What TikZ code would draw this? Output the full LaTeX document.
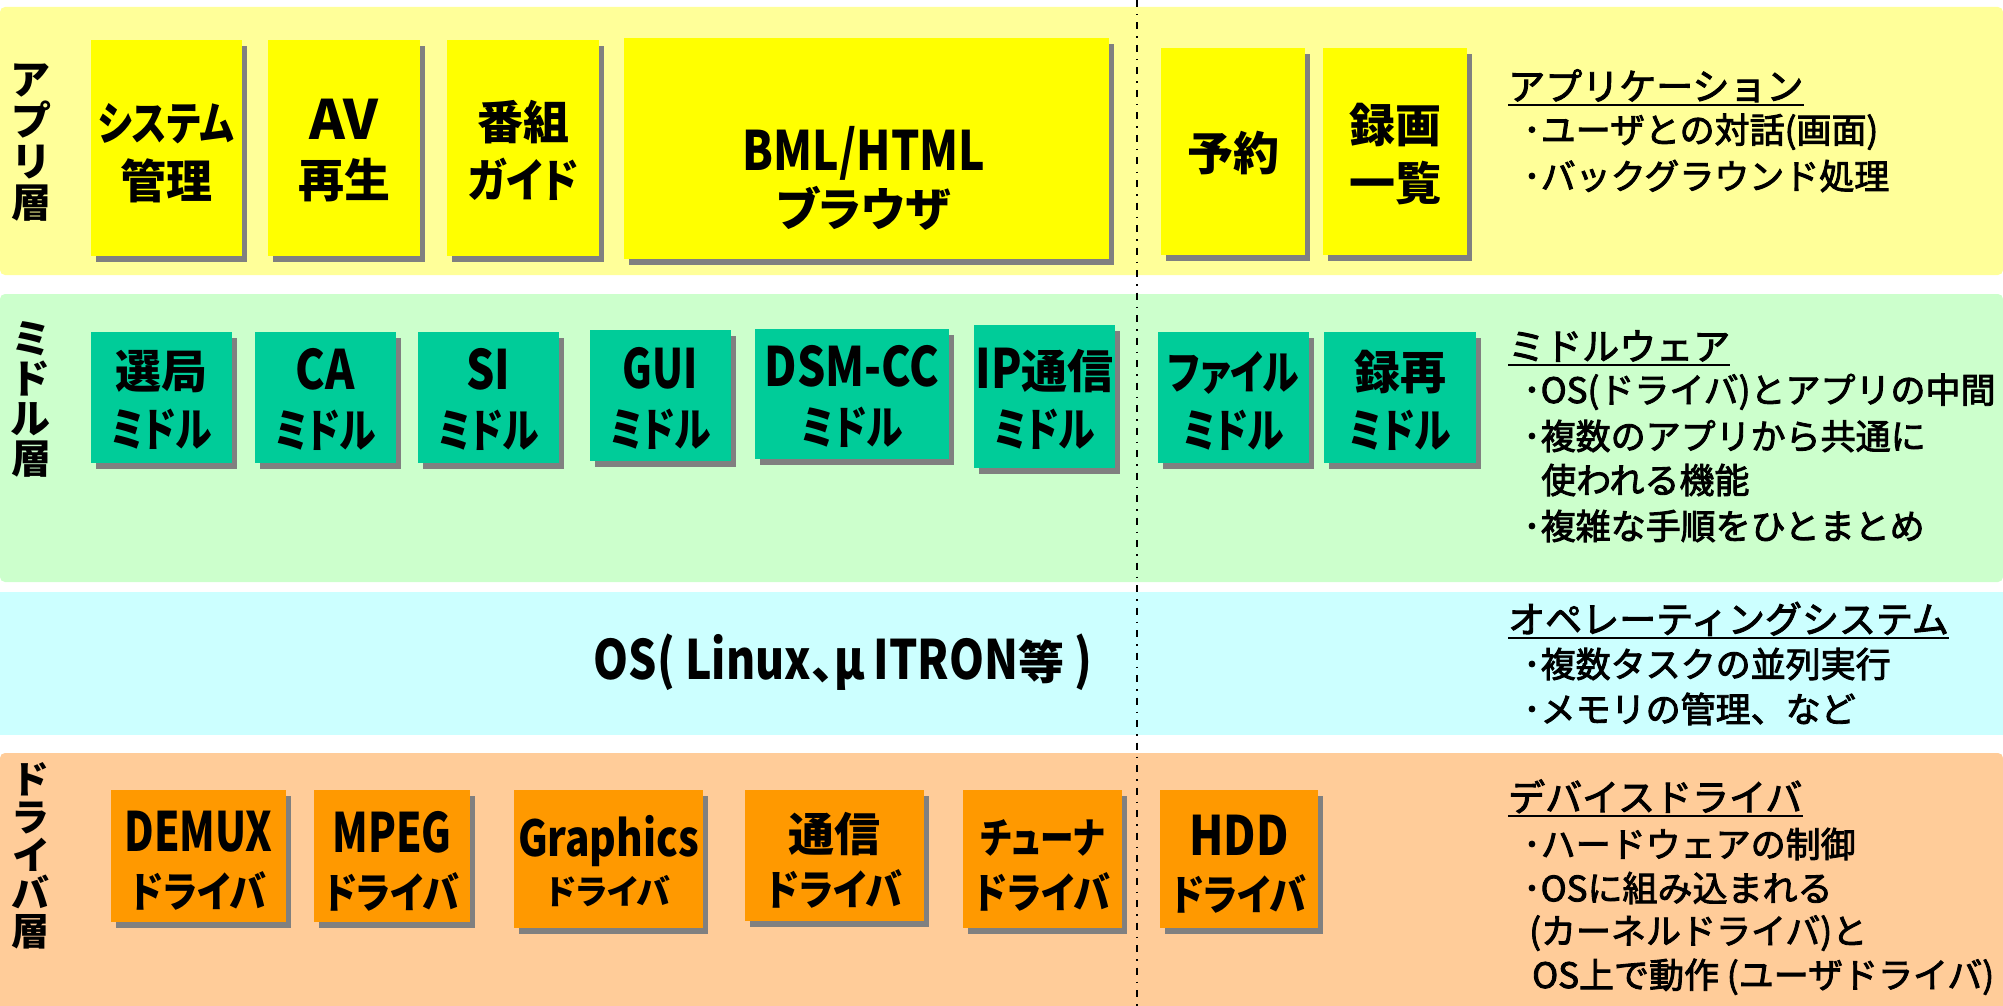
\documentclass[tikz,border=0pt]{standalone}
\usepackage{fontspec}
\newfontfamily\jp{Noto Sans CJK JP}[FakeBold=2.5]
\newfontfamily\jpb{Noto Sans CJK JP}[RawFeature=+palt]
\newfontfamily\jpk{Noto Sans CJK JP}[RawFeature=+palt,FakeStretch=0.8]
\newfontfamily\jpm{Noto Sans CJK JP}[RawFeature=+palt,FakeStretch=0.88]
\newfontfamily\jpl{Noto Sans CJK JP}[FakeStretch=0.82,Scale=1.18]
\newfontfamily\jpn{Noto Sans CJK JP}[FakeStretch=0.75,Scale=1.18]
\newfontfamily\jpw{Noto Sans CJK JP}[FakeStretch=1.0,Scale=1.18]
\usetikzlibrary{calc,shadows}
\definecolor{appbg}{HTML}{FFFF99}
\definecolor{appbox}{HTML}{FFFF00}
\definecolor{midbg}{HTML}{CCFFCC}
\definecolor{midbox}{HTML}{00CC99}
\definecolor{osbg}{HTML}{CCFFFF}
\definecolor{drvbg}{HTML}{FFCC99}
\definecolor{drvbox}{HTML}{FF9900}
\definecolor{shgray}{HTML}{808080}
\newcommand\bst{\rule[-0.12em]{0pt}{1em}}
\newcommand\kn[1]{{\jpk #1}}
\newcommand\km[1]{{\jpm #1}}
\newcommand\mkbox[6]{\node[#1, minimum width={(#5)-(#3)}, minimum height={(#6)-(#4)}] (#2) at ({((#3)+(#5))/2},{((#4)+(#6))/2}) {};}
\begin{document}
\begin{tikzpicture}[x=1pt,y=-1pt,
  bxs/.style={inner sep=0, draw=none, rectangle,
    drop shadow={shadow xshift=5pt, shadow yshift=-6pt, fill=shgray, opacity=1}},
  appbx/.style={bxs, fill=appbox},
  midbx/.style={bxs, fill=midbox},
  drvbx/.style={bxs, fill=drvbox},
  btxt/.style={inner sep=0, align=center, font=\jpb\bfseries\fontsize{46}{58}\selectfont},
  lbl/.style={inner sep=0, align=center, font=\jpb\bfseries\fontsize{40}{41}\selectfont},
  ttl/.style={anchor=west, inner sep=0, font=\jp\fontsize{37}{45}\selectfont},
  dsc/.style={anchor=west, inner sep=0, font=\jp\fontsize{35}{45}\selectfont},
  uline/.style={line width=2pt},
  dashdotline/.style={line width=1.8pt, dash pattern=on 7pt off 7pt on 1.5pt off 7pt}]
\useasboundingbox (0,0) rectangle (2003,1006);
% bands
\fill[appbg, rounded corners=5pt] (0,7) rectangle (2003,275);
\fill[midbg, rounded corners=5pt] (0,294) rectangle (2003,582);
\fill[osbg] (0,592) rectangle (2003,735);
\fill[drvbg, rounded corners=5pt] (0,753) rectangle (2003,1020);
% divider
\coordinate (divtop) at (1137,0);
\coordinate (divbot) at (1137,1006);
\draw[dashdotline] (divtop) -- (divbot);
% layer labels
\node[lbl] (lab-app) at (31,140.5) {ア\bst\\プ\bst\\リ\bst\\層\bst};
\node[lbl, font=\jpb\bfseries\fontsize{40}{40}\selectfont] (lab-mid) at (31,398.5) {ミ\bst\\ド\bst\\ル\bst\\層\bst};
\node[lbl, font=\jpb\bfseries\fontsize{38}{38}\selectfont] (lab-drv) at (31,855.5) {ド\bst\\ラ\bst\\イ\bst\\バ\bst\\層\bst};
% application boxes
\mkbox{appbx}{sys}{91}{40}{242}{256}
\mkbox{appbx}{av}{268}{40}{420}{256}
\mkbox{appbx}{prog}{447}{40}{599}{256}
\mkbox{appbx}{bml}{624}{38}{1109}{259}
\mkbox{appbx}{yoyaku}{1161}{48}{1305}{255}
\mkbox{appbx}{rokuga}{1323}{48}{1467}{255}
\node[btxt] (sys-t) at (166,152) {\kn{システム}\bst\\管理\bst};
\node[btxt] (av-t) at (344,151.5) {{\jpw AV}\bst\\再生\bst};
\node[btxt] (prog-t) at (523,151.5) {番組\bst\\\km{ガイド}\bst};
\node[btxt, font=\jpb\bfseries\fontsize{46}{56}\selectfont] (bml-t) at (864,179) {{\jpl BML/HTML}\bst\\ブラウザ\bst};
\node[btxt] (yoyaku-t) at (1233,153) {予約\bst};
\node[btxt] (rokuga-t) at (1395,154) {録画\bst\\一覧\bst};
% middleware boxes
\mkbox{midbx}{senkyoku}{91}{332}{232}{463}
\mkbox{midbx}{ca}{255}{332}{396}{463}
\mkbox{midbx}{si}{418}{332}{559}{463}
\mkbox{midbx}{gui}{590}{330}{731}{461}
\mkbox{midbx}{dsm}{755}{329}{949}{459}
\mkbox{midbx}{ip}{974}{325}{1115}{468}
\mkbox{midbx}{file}{1158}{332}{1309}{463}
\mkbox{midbx}{rokusai}{1324}{332}{1476}{463}
\node[btxt] (senkyoku-t) at (161.5,400.5) {選局\bst\\\kn{ミドル}\bst};
\node[btxt] (ca-t) at (325.5,400.5) {{\jpl CA}\bst\\\kn{ミドル}\bst};
\node[btxt] (si-t) at (488.5,400.5) {{\jpl SI}\bst\\\kn{ミドル}\bst};
\node[btxt] (gui-t) at (660.5,400) {{\jpn GUI}\bst\\\kn{ミドル}\bst};
\node[btxt] (dsm-t) at (852,397.5) {{\jpl DSM-CC}\bst\\\kn{ミドル}\bst};
\node[btxt] (ip-t) at (1044.5,400.5) {{\jpl IP}通信\bst\\\kn{ミドル}\bst};
\node[btxt] (file-t) at (1233.5,401) {\kn{ファイル}\bst\\\kn{ミドル}\bst};
\node[btxt] (rokusai-t) at (1400,401) {録再\bst\\\kn{ミドル}\bst};
% OS
\node[btxt] (os-t) at (843,662) {{\jpl OS( Linux}、{\jpl μ\,ITRON}等{\jpl\ )}\bst};
% driver boxes
\mkbox{drvbx}{demux}{111}{790}{286}{922}
\mkbox{drvbx}{mpeg}{314}{790}{470}{922}
\mkbox{drvbx}{gfx}{514}{790}{703}{928}
\mkbox{drvbx}{tsu}{745}{790}{924}{921}
\mkbox{drvbx}{tuner}{963}{790}{1122}{928}
\mkbox{drvbx}{hdd}{1160}{790}{1318}{928}
\node[btxt, font=\jpb\bfseries\fontsize{46}{56}\selectfont] (demux-t) at (198.5,862) {{\jpn DEMUX}\bst\\{\fontsize{42}{56}\selectfont\km{ドライバ}\bst}};
\node[btxt, font=\jpb\bfseries\fontsize{46}{56}\selectfont] (mpeg-t) at (392,862) {{\jpn MPEG}\bst\\{\fontsize{42}{56}\selectfont\km{ドライバ}\bst}};
\node[btxt, font=\jpb\bfseries\fontsize{46}{48}\selectfont] (gfx-t) at (608.5,862) {{\fontsize{42}{48}\selectfont\jpl Graphics}\bst\\{\fontsize{34}{48}\selectfont ドライバ\bst}};
\node[btxt, font=\jpb\bfseries\fontsize{46}{54}\selectfont] (tsu-t) at (834.5,861) {通信\bst\\{\fontsize{42}{54}\selectfont\km{ドライバ}\bst}};
\node[btxt, font=\jpb\bfseries\fontsize{42}{55}\selectfont] (tuner-t) at (1042.5,865) {\kn{チューナ}\bst\\\km{ドライバ}\bst};
\node[btxt, font=\jpb\bfseries\fontsize{46}{55}\selectfont] (hdd-t) at (1239,865) {{\jpl HDD}\bst\\{\fontsize{42}{55}\selectfont\km{ドライバ}\bst}};
% descriptions
\node[ttl] (t-app) at (1508,86) {アプリケーション\bst};
\draw[uline] (t-app.south west) -- (t-app.south east);
\node[dsc] (d-app1) at (1523,131) {･ユーザとの対話(画面)\bst};
\node[dsc] (d-app2) at (1523,176) {･バックグラウンド処理\bst};
\node[ttl] (t-mid) at (1508,346) {ミドルウェア\bst};
\draw[uline] (t-mid.south west) -- (t-mid.south east);
\node[dsc] (d-mid1) at (1523,391) {･OS(ドライバ)とアプリの中間\bst};
\node[dsc] (d-mid2) at (1523,436) {･複数のアプリから共通に\bst};
\node[dsc] (d-mid3) at (1541,480) {使われる機能\bst};
\node[dsc] (d-mid4) at (1523,526) {･複雑な手順をひとまとめ\bst};
\node[ttl] (t-os) at (1508,619) {オペレーティングシステム\bst};
\draw[uline] (t-os.south west) -- (t-os.south east);
\node[dsc] (d-os1) at (1523,664) {･複数タスクの並列実行\bst};
\node[dsc] (d-os2) at (1523,709) {･メモリの管理、など\bst};
\node[ttl] (t-drv) at (1508,797) {デバイスドライバ\bst};
\draw[uline] (t-drv.south west) -- (t-drv.south east);
\node[dsc] (d-drv1) at (1523,844) {･ハードウェアの制御\bst};
\node[dsc] (d-drv2) at (1523,888) {･OSに組み込まれる\bst};
\node[dsc] (d-drv3) at (1529,932) {(カーネルドライバ)と\bst};
\node[dsc] (d-drv4) at (1532,976) {OS上で動作 (ユーザドライバ)\bst};
\end{tikzpicture}
\end{document}
